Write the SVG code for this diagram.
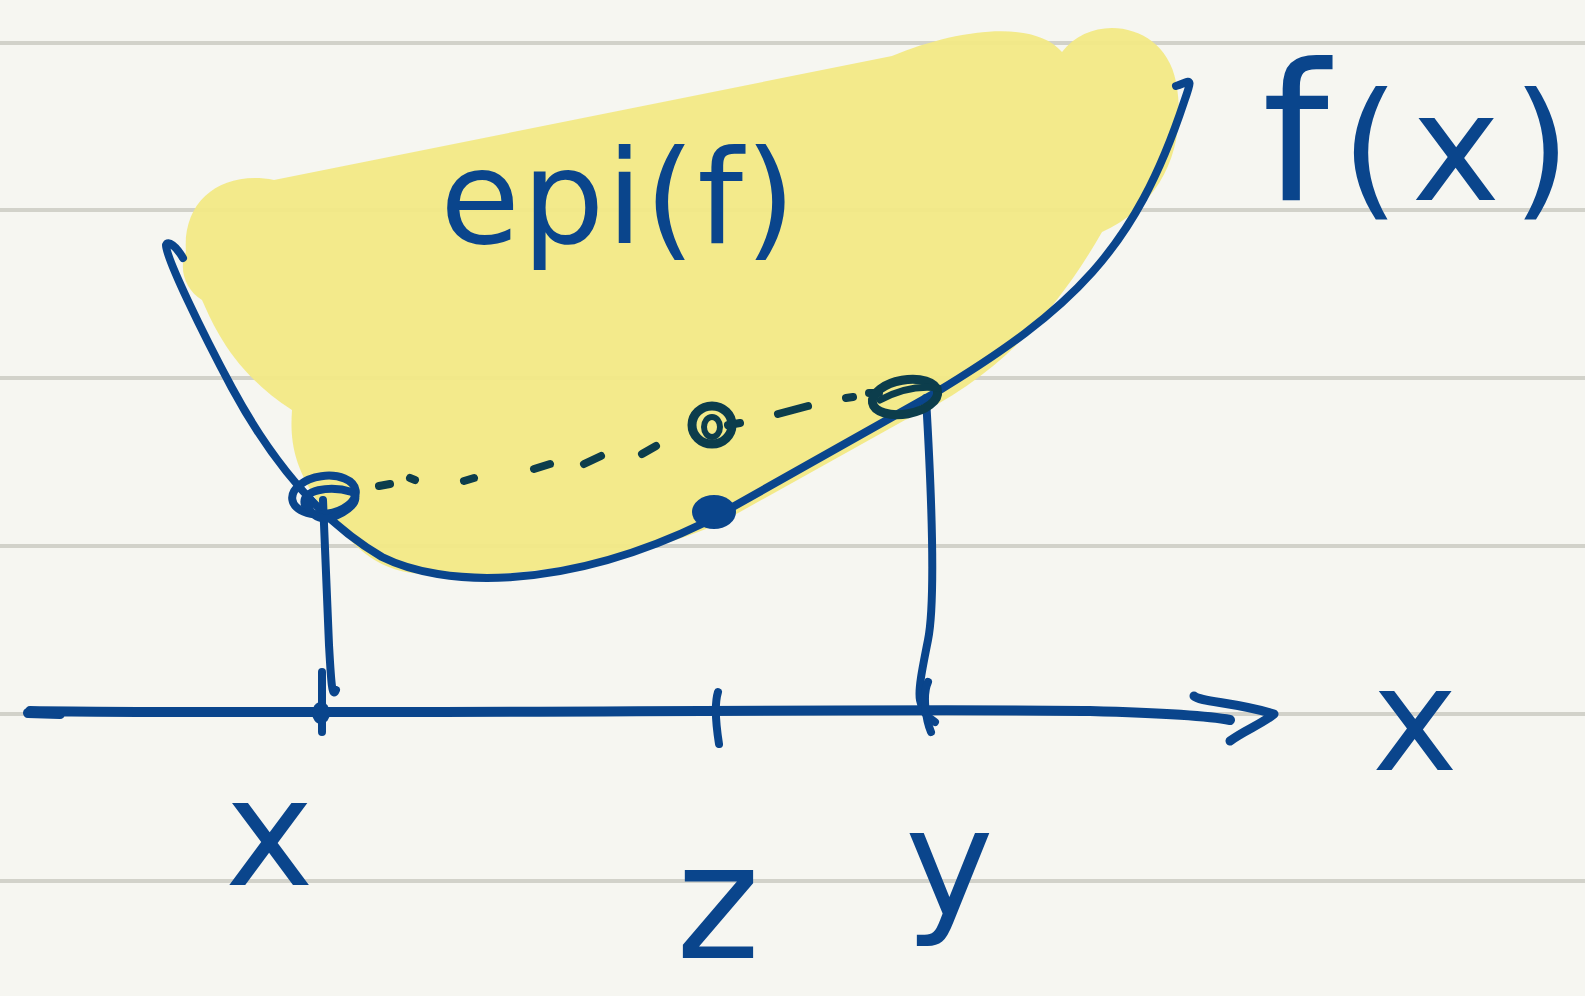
<svg xmlns="http://www.w3.org/2000/svg" width="1585" height="996" viewBox="0 0 1585 996">
<style>
.rule{stroke:#d2d2ca;stroke-width:4}
.ink{fill:none;stroke:#0a458c;stroke-width:8;stroke-linecap:round;stroke-linejoin:round}
.dark{fill:none;stroke:#0c3d4c;stroke-width:8;stroke-linecap:round}
.t{font-family:"DejaVu Sans",sans-serif;fill:#0a458c}
</style>
<rect width="1585" height="996" fill="#f6f6f1"/>
<g id="rules">
<line class="rule" x1="0" y1="43" x2="1585" y2="43"/>
<line class="rule" x1="0" y1="210" x2="1585" y2="210"/>
<line class="rule" x1="0" y1="378" x2="1585" y2="378"/>
<line class="rule" x1="0" y1="546" x2="1585" y2="546"/>
<line class="rule" x1="0" y1="714" x2="1585" y2="714"/>
<line class="rule" x1="0" y1="881" x2="1585" y2="881"/>
</g>
<g id="epigraph-fill">
<path d="M 186 252 C 182 200 222 170 274 180 L 892 56 C 960 28 1035 20 1062 52 C 1092 12 1165 22 1176 82 C 1188 145 1162 205 1102 232 C 1062 302 1002 378 905 420 L 722 522 C 640 560 505 582 420 574 C 372 570 352 542 332 520 C 292 472 290 440 292 410 C 232 372 212 322 202 300 C 186 290 178 270 186 252 Z" fill="#f2e985" opacity="0.95"/>
</g>
<g id="connectors">
<path class="ink" d="M 183 258 C 176 246 168 240 166 245 C 166 258 202 332 232 388 C 272 462 322 522 382 557 C 442 587 562 592 706 522 L 935 393 C 1072 310 1135 250 1184 102 C 1194 74 1190 82 1176 86"/>
<path class="ink" d="M 323 500 L 329 645 C 331 680 332 700 336 690"/>
<path class="ink" d="M 926 398 C 932 500 936 600 928 640 C 922 670 918 690 920 700 C 922 712 928 718 935 722"/>
<path class="ink" d="M 28 713 L 60 714 M 30 711 C 300 715 900 708 1090 711 C 1160 713 1210 716 1230 720" style="stroke-width:10"/>
<path class="ink" d="M 1194 696 C 1200 702 1235 702 1274 714 C 1262 724 1245 730 1230 741" style="stroke-width:9"/>
<path class="ink" d="M 322 672 L 322 732 M 718 692 C 714 705 716 725 719 744 M 928 682 C 922 695 926 720 931 732"/>
<ellipse cx="321" cy="713" rx="9" ry="11" fill="#0a458c"/>
<g id="chord">
<path class="dark" d="M 379 486 L 390 484 M 410 478 L 415 480 M 464 481 L 474 478 M 534 469 L 550 464 M 584 464 L 601 456 M 642 454 L 656 446 M 728 425 L 740 423 M 778 414 L 808 406 M 846 398 L 853 397 M 869 393 L 879 393"/>
</g>
</g>
<g id="point-x">
<ellipse cx="324" cy="495" rx="32" ry="19" fill="none" stroke="#0a458c" stroke-width="8" transform="rotate(-8 324 495)"/>
<path class="ink" d="M 305 505 C 300 490 330 485 352 492 C 362 500 348 512 330 518 C 318 520 305 512 310 500"/>
</g>
<g id="point-z-chord">
<ellipse cx="712" cy="425" rx="20" ry="19" fill="none" stroke="#0c3d4c" stroke-width="9"/>
<ellipse cx="712" cy="427" rx="8" ry="10" fill="none" stroke="#0c3d4c" stroke-width="6"/>
</g>
<g id="point-z-curve">
<ellipse cx="714" cy="512" rx="22" ry="17" fill="#0a458c"/>
</g>
<g id="point-y">
<ellipse cx="905" cy="397" rx="33" ry="17" fill="none" stroke="#0c3d4c" stroke-width="9" transform="rotate(-10 905 397)"/>
<path class="dark" d="M 880 400 C 895 392 915 385 938 388" style="stroke-width:7"/>
</g>
<g id="label-epi">
<text class="t" x="440" y="243" font-size="130" letter-spacing="2">epi(f)</text>
</g>
<g id="label-fx">
<text class="t" x="1262" y="200" font-size="150" letter-spacing="12"><tspan font-size="190">f</tspan>(x)</text>
</g>
<g id="label-axis">
<text class="t" x="1372" y="770" font-size="145">x</text>
</g>
<g id="label-x">
<text class="t" x="225" y="885" font-size="150">x</text>
</g>
<g id="label-z">
<text class="t" x="676" y="958" font-size="160">z</text>
</g>
<g id="label-y">
<text class="t" x="905" y="915" font-size="150">y</text>
</g>
</svg>
